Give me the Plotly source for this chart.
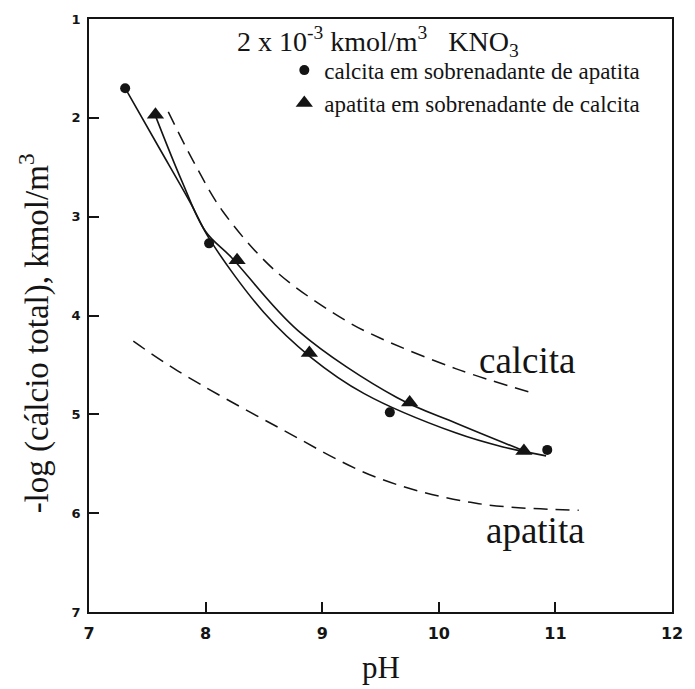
import plotly.graph_objects as go

# measured points
calcita_pH = [7.31, 8.03, 9.58, 10.93]
calcita_val = [1.70, 3.27, 4.98, 5.36]
apatita_pH = [7.57, 8.27, 8.89, 9.75, 10.73]
apatita_val = [1.97, 3.44, 4.38, 4.88, 5.37]

# fitted solid curves
fit_calc_pH = [7.31, 7.6, 7.87, 8.03, 8.5, 8.9, 9.36, 10.15, 10.55, 10.92]
fit_calc_val = [1.70, 2.30, 2.86, 3.22, 3.97, 4.42, 4.79, 5.19, 5.33, 5.42]
fit_apat_pH = [7.57, 7.8, 8.0, 8.22, 8.79, 9.64, 10.15, 10.73]
fit_apat_val = [1.98, 2.65, 3.15, 3.41, 4.15, 4.83, 5.09, 5.37]

# theoretical dashed curves
teo_calc_pH = [7.68, 7.9, 8.15, 8.6, 9.2, 9.5, 10.15, 10.82]
teo_calc_val = [1.94, 2.45, 2.95, 3.55, 4.05, 4.23, 4.54, 4.79]
teo_apat_pH = [7.38, 7.76, 8.62, 9.47, 10.32, 11.2]
teo_apat_val = [4.26, 4.56, 5.13, 5.64, 5.90, 5.97]

x_ticks = [7, 8, 9, 10, 11, 12]
y_ticks = [1, 2, 3, 4, 5, 6, 7]

INK = "#141414"
SERIF = "Liberation Serif, Times New Roman, serif"

fig = go.Figure()
fig.add_trace(go.Scatter(x=teo_calc_pH, y=teo_calc_val, mode="lines", line_shape="spline",
                         line=dict(color=INK, width=1.5, dash="14px,8px"), showlegend=False))
fig.add_trace(go.Scatter(x=teo_apat_pH, y=teo_apat_val, mode="lines", line_shape="spline",
                         line=dict(color=INK, width=1.5, dash="14px,8px"), showlegend=False))
fig.add_trace(go.Scatter(x=fit_calc_pH, y=fit_calc_val, mode="lines", line_shape="spline",
                         line=dict(color=INK, width=1.6), showlegend=False))
fig.add_trace(go.Scatter(x=fit_apat_pH, y=fit_apat_val, mode="lines", line_shape="spline",
                         line=dict(color=INK, width=1.6), showlegend=False))
fig.add_trace(go.Scatter(x=calcita_pH, y=calcita_val, mode="markers",
                         marker=dict(symbol="circle", size=10, color=INK),
                         name="calcita em sobrenadante de apatita"))
fig.add_trace(go.Scatter(x=apatita_pH, y=apatita_val, mode="markers",
                         marker=dict(symbol="triangle-up", size=15, color=INK),
                         name="apatita em sobrenadante de calcita"))

fig.update_layout(
    width=695, height=689,
    margin=dict(l=89, r=19, t=19, b=77),
    paper_bgcolor="white", plot_bgcolor="white",
    showlegend=True,
    legend=dict(x=0.335, y=0.95, xanchor="left", yanchor="top",
                bgcolor="rgba(0,0,0,0)", font=dict(family=SERIF, size=23, color=INK),
                itemwidth=30, tracegroupgap=0),
    xaxis=dict(range=[7, 12], tickvals=x_ticks, ticks="inside", ticklen=10, tickwidth=1.5,
               tickcolor=INK, showline=True, linecolor=INK, linewidth=1.6, mirror=True,
               showgrid=False, zeroline=False, ticklabelstandoff=6,
               tickfont=dict(family="DejaVu Sans", size=16, color=INK, weight="bold")),
    yaxis=dict(range=[7, 1], tickvals=y_ticks, ticks="inside", ticklen=10, tickwidth=1.5,
               tickcolor=INK, showline=True, linecolor=INK, linewidth=1.6, mirror=True,
               showgrid=False, zeroline=False, ticklabelstandoff=4,
               tickfont=dict(family="DejaVu Sans", size=13, color=INK, weight="bold")),
    annotations=[
        dict(text="2 x 10<sup>-3</sup> kmol/m<sup>3</sup>   KNO<sub>3</sub>", xref="paper", yref="paper",
             x=0.25, y=0.962, xanchor="left", yanchor="middle", showarrow=False,
             font=dict(family=SERIF, size=28, color=INK)),
        dict(text="calcita", xref="paper", yref="paper", x=(480 - 89) / 587, y=(612 - 360) / 593,
             xanchor="left", yanchor="middle", showarrow=False,
             font=dict(family=SERIF, size=37, color=INK)),
        dict(text="apatita", xref="paper", yref="paper", x=(487 - 89) / 587, y=(612 - 530) / 593,
             xanchor="left", yanchor="middle", showarrow=False,
             font=dict(family=SERIF, size=37, color=INK)),
        dict(text="-log (cálcio total), kmol/m<sup>3</sup>", xref="paper", yref="paper",
             x=(34 - 89) / 587, y=(612 - 333) / 593, xanchor="center", yanchor="middle",
             textangle=-90, showarrow=False, font=dict(family=SERIF, size=33, color=INK)),
        dict(text="pH", xref="paper", yref="paper", x=(383 - 89) / 587, y=(612 - 667) / 593,
             xanchor="center", yanchor="middle", showarrow=False,
             font=dict(family=SERIF, size=31, color=INK)),
    ],
)

fig.write_html("out.html")
